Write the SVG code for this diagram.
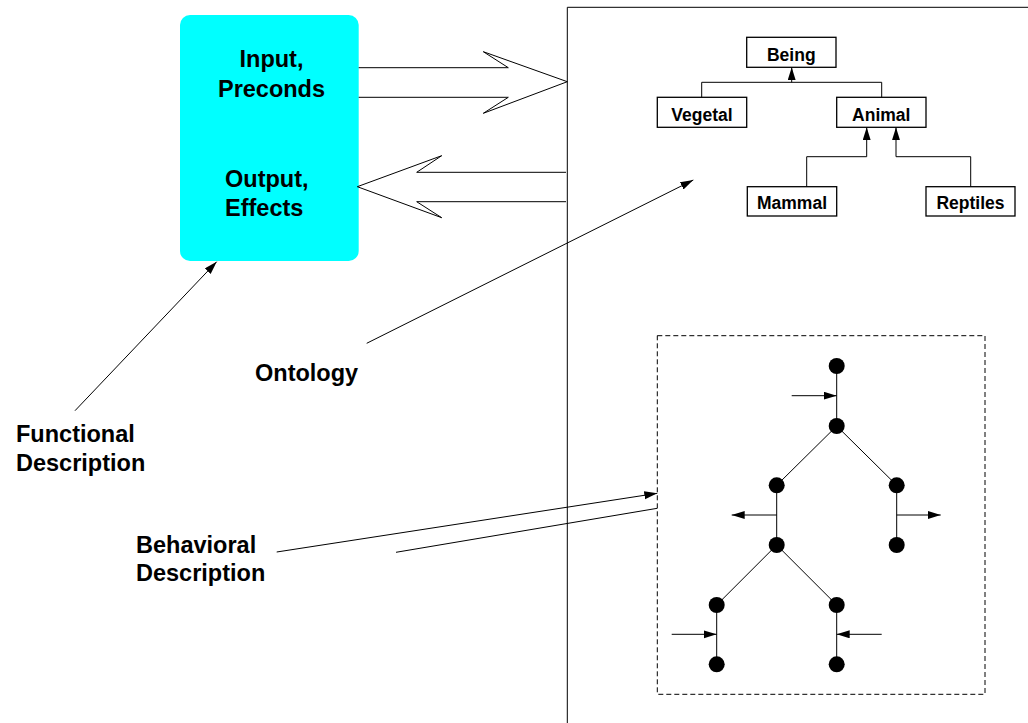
<svg xmlns="http://www.w3.org/2000/svg" width="1028" height="723" viewBox="0 0 1028 723">
<style>
text{font-family:"Liberation Sans",Arial,sans-serif;font-weight:bold;fill:#000}
.big{font-size:23.5px}
.sm{font-size:17.5px}
.ln{fill:none;stroke:#000;stroke-width:1}
.box{fill:#fff;stroke:#000;stroke-width:1.3}
.dot{fill:#000}
</style>
<defs>
<marker id="ah" markerUnits="userSpaceOnUse" markerWidth="14" markerHeight="10" refX="13" refY="4" orient="auto">
<path d="M0,0 L13,4 L0,8 z" fill="#000"/>
</marker>
</defs>
<rect x="0" y="0" width="1028" height="723" fill="#fff"/>

<g id="frame">
<path class="ln" d="M567.3,723 V7.3 H1028"/>
</g>

<g id="service">
<rect x="180" y="15" width="178.7" height="246" rx="10" fill="#00ffff"/>
<text class="big" x="271.5" y="66.7" text-anchor="middle">Input,</text>
<text class="big" x="271.5" y="96.7" text-anchor="middle">Preconds</text>
<text class="big" x="225" y="186.7">Output,</text>
<text class="big" x="225" y="216">Effects</text>
</g>

<g id="label-functional">
<text class="big" x="16" y="441.7">Functional</text>
<text class="big" x="16" y="470.7">Description</text>
</g>
<g id="label-ontology">
<text class="big" x="255" y="381">Ontology</text>
</g>
<g id="label-behavioral">
<text class="big" x="136" y="552.7">Behavioral</text>
<text class="big" x="136" y="581">Description</text>
</g>

<g id="being"><rect class="box" x="746.7" y="37.3" width="89.3" height="30"/><text class="sm" x="791.3" y="60.7" text-anchor="middle">Being</text></g>
<g id="vegetal"><rect class="box" x="657.3" y="97.3" width="89.4" height="30"/><text class="sm" x="702" y="120.7" text-anchor="middle">Vegetal</text></g>
<g id="animal"><rect class="box" x="836.7" y="97.3" width="89.3" height="30"/><text class="sm" x="881.3" y="120.7" text-anchor="middle">Animal</text></g>
<g id="mammal"><rect class="box" x="747.3" y="186.7" width="89.4" height="29.3"/><text class="sm" x="792" y="209.3" text-anchor="middle">Mammal</text></g>
<g id="reptiles"><rect class="box" x="926" y="186.7" width="89" height="29.3"/><text class="sm" x="970.5" y="209.3" text-anchor="middle">Reptiles</text></g>

<g id="behavior-box">
<rect x="657.3" y="335.7" width="327.7" height="358.6" fill="none" stroke="#000" stroke-width="1" stroke-dasharray="5,3"/>
<g id="tree-edges" class="ln">
<path d="M836.7,366 V426 L776.7,485.3 V545 L716.7,605 V664.3 M836.7,426 L896.7,485.3 V545 M776.7,545 L836.7,605 V664.3"/>
</g>
<g id="tree-nodes" class="dot">
<circle cx="836.7" cy="366" r="8"/>
<circle cx="836.7" cy="426" r="8"/>
<circle cx="776.7" cy="485.3" r="8"/>
<circle cx="896.7" cy="485.3" r="8"/>
<circle cx="776.7" cy="545" r="8"/>
<circle cx="896.7" cy="545" r="8"/>
<circle cx="716.7" cy="605" r="8"/>
<circle cx="836.7" cy="605" r="8"/>
<circle cx="716.7" cy="664.3" r="8"/>
<circle cx="836.7" cy="664.3" r="8"/>
</g>
</g>

<g id="connectors">
<polyline class="ln" points="358.7,67.7 508.3,67.7 483.3,51.7 567.3,81.7 483.3,113.3 508.3,97.3 358.7,97.3"/>
<polyline class="ln" points="566,172.3 416.7,172.3 441.7,155.7 357.3,186.7 441.7,217.7 416.7,201.7 566,201.7"/>
<path class="ln" d="M75,410.7 L216.7,261.7" marker-end="url(#ah)"/>
<path class="ln" d="M366.7,343.3 L693.3,180" marker-end="url(#ah)"/>
<path class="ln" d="M276.7,552 L657.3,493.3" marker-end="url(#ah)"/>
<path class="ln" d="M396,552.3 L657.3,508.3"/>
<path class="ln" d="M701.7,97.3 V82.3 H881.7 V97.3"/>
<path class="ln" d="M791.7,82.3 V67.3" marker-end="url(#ah)"/>
<path class="ln" d="M806.7,186.7 V156.7 H866.7 V127.3" marker-end="url(#ah)"/>
<path class="ln" d="M970.7,186.7 V156.7 H896 V127.3" marker-end="url(#ah)"/>
<path class="ln" d="M791.7,395.7 H836.7" marker-end="url(#ah)"/>
<path class="ln" d="M776.7,515 H731.7" marker-end="url(#ah)"/>
<path class="ln" d="M896.7,515 H940.7" marker-end="url(#ah)"/>
<path class="ln" d="M671.7,634.3 H716.7" marker-end="url(#ah)"/>
<path class="ln" d="M881.7,634.3 H836.7" marker-end="url(#ah)"/>
</g>
</svg>
